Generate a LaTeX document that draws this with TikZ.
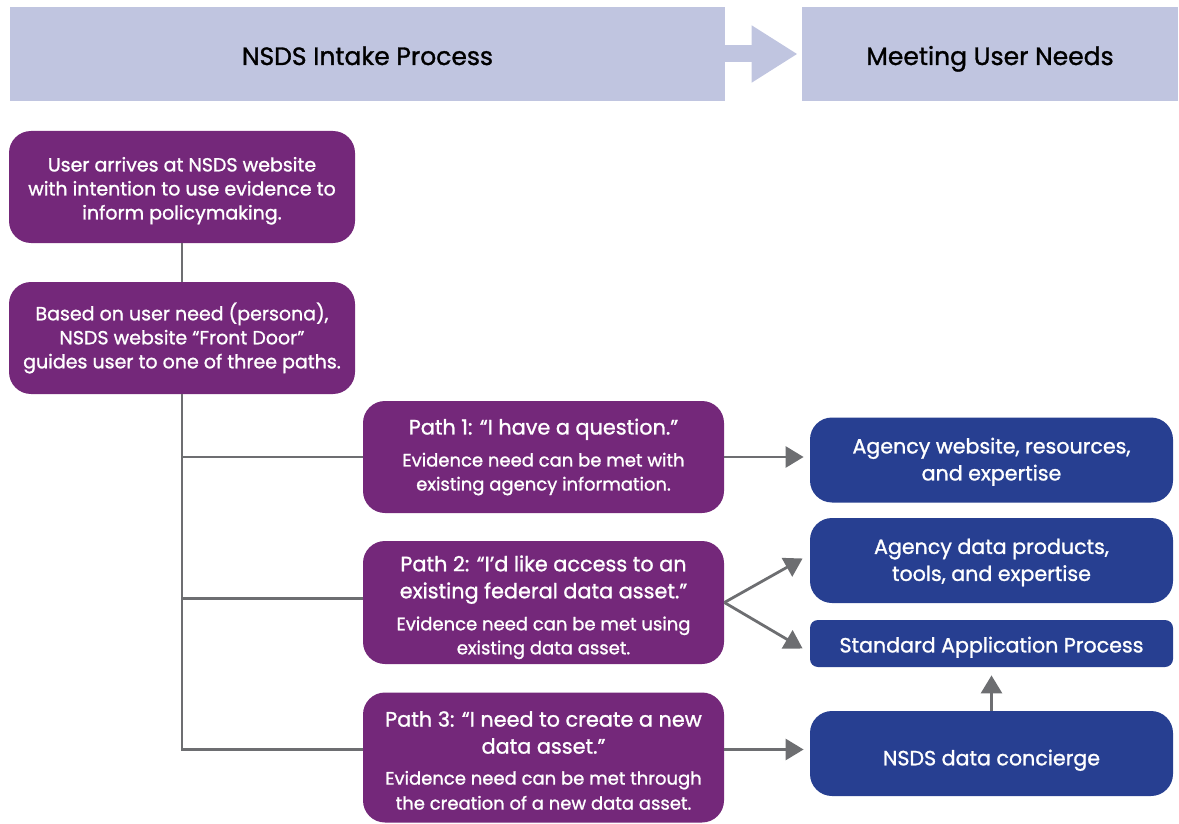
\documentclass[tikz,border=0pt]{standalone}
\usepackage{fontspec}
\setmainfont{Poppins}[FakeBold=1.2]
\usetikzlibrary{arrows.meta}

\definecolor{intakepurple}{HTML}{74287A}
\definecolor{needsblue}{HTML}{273F91}
\definecolor{headlav}{HTML}{C0C5E0}
\definecolor{linkgray}{HTML}{6D6E71}

\tikzset{
	headbar/.style={fill=headlav, inner sep=0pt, minimum height=47pt, text height=11pt, text depth=0pt, font=\fontsize{12.5}{15}\selectfont},
	stepbox/.style={fill=intakepurple, text=white, rounded corners=11pt, inner sep=0pt, minimum width=173pt, align=center, font=\fontsize{9.5}{12}\selectfont},
	pathbox/.style={stepbox, minimum width=180.5pt},
	needbox/.style={fill=needsblue, text=white, rounded corners=11pt, inner sep=0pt, minimum width=181.5pt, minimum height=42.5pt, align=center, font=\fontsize{10.3}{13.5}\selectfont},
	trunk/.style={draw=linkgray, line width=1.4pt},
	link/.style={draw=linkgray, line width=1.4pt, -{Triangle[length=9pt,width=10.5pt]}}
}
\newcommand{\pathtitle}{\fontsize{10.4}{13.5}\selectfont}
\newcommand{\pathnote}{\fontsize{9}{12}\selectfont}
\newcommand{\topstrut}[1]{\rule{0pt}{#1}}

\begin{document}
\begin{tikzpicture}[x=0.5pt,y=-0.5pt]
	\useasboundingbox (0,0) rectangle (1179,824);
	\node [headbar, minimum width=357.5pt] (intake) at (367.5,54) {NSDS Intake Process};
	\node [headbar, minimum width=188pt] (needs) at (990,54) {Meeting User Needs};
	\draw [headlav, line width=8.5pt, -{Triangle[length=23pt,width=27pt]}] (intake.east) -- ([xshift=-2pt]needs.west);

	\node [stepbox, minimum height=56pt] (arrive) at (182,187) {\topstrut{11pt}User arrives at NSDS website\\with intention to use evidence to\\inform policymaking.};
	\node [stepbox, minimum height=56pt] (frontdoor) at (182,338) {Based on user need (persona),\\NSDS website “Front Door”\\guides user to one of three paths.};

	\node [pathbox, minimum height=56pt] (path1) at (543.5,457) {{\pathtitle Path 1: “I have a question.”}\\[4pt]{\pathnote Evidence need can be met with}\\{\pathnote existing agency information.}};
	\node [pathbox, minimum height=61.5pt] (path2) at (543.5,602.5) {{\pathtitle\topstrut{12.7pt}Path 2: “I’d like access to an}\\[1.5pt]{\pathtitle existing federal data asset.”}\\[4pt]{\pathnote Evidence need can be met using}\\{\pathnote existing data asset.}};
	\node [pathbox, minimum height=65pt] (path3) at (543.5,757.5) {{\pathtitle\topstrut{10.7pt}Path 3: “I need to create a new}\\[1.5pt]{\pathtitle data asset.”}\\[3.5pt]{\pathnote Evidence need can be met through}\\[0.5pt]{\pathnote the creation of a new data asset.}};

	\node [needbox] (agencyweb) at (991.5,460) {\topstrut{9.6pt}Agency website, resources,\\and expertise};
	\node [needbox] (agencydata) at (991.5,560.5) {\topstrut{9.6pt}Agency data products,\\tools, and expertise};
	\node [needbox, minimum height=23.5pt, rounded corners=4pt] (standard) at (991.5,643.5) {\topstrut{11.6pt}Standard Application Process};
	\node [needbox] (concierge) at (991.5,753.5) {\topstrut{14.6pt}NSDS data concierge};

	\draw [trunk] (arrive) -- (frontdoor);
	\draw [trunk] (frontdoor.south) |- ([yshift=4pt]path3.west);
	\draw [trunk] (frontdoor.south |- path1.west) -- (path1.west);
	\draw [trunk] ([yshift=2pt]frontdoor.south |- path2.west) -- ([yshift=2pt]path2.west);

	\draw [link] (path1.east) -- ([xshift=-3pt]path1.east -| agencyweb.west);
	\draw [link] (path2.east) -- ([xshift=-3.5pt,yshift=1pt]agencydata.west);
	\draw [link] (path2.east) -- ([xshift=-3.5pt,yshift=-2.5pt]standard.west);
	\draw [link] ([yshift=4pt]path3.east) -- ([xshift=-3pt,yshift=4pt]path3.east -| concierge.west);
	\draw [link] (concierge.north) -- ([yshift=-4pt]standard.south);
\end{tikzpicture}
\end{document}
